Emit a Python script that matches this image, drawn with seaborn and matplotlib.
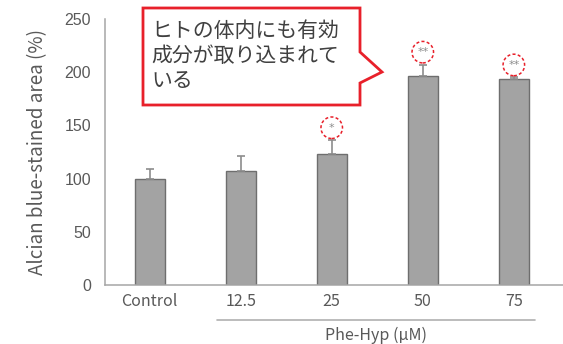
import seaborn as sns
import matplotlib.pyplot as plt
import matplotlib.transforms as mtransforms
import pandas as pd
from matplotlib.patches import Polygon

# Data
groups = ["Control", "12.5", "25", "50", "75"]
means = [100, 107, 123, 196, 194]
errors = [9, 14, 13, 11, 1]
signif = ["", "", "*", "**", "**"]

callout = "ヒトの体内にも有効\n成分が取り込まれて\nいる"

df = pd.DataFrame({"group": groups, "area": means})

sns.set_style("white")
plt.rcParams["font.family"] = ["Noto Sans CJK JP", "DejaVu Sans"]

grey_txt = "#595959"
axis_col = "#a6a6a6"
red = "#e8202a"

fig = plt.figure(figsize=(5.63, 3.44), dpi=100)
ax = fig.add_axes([0.1865, 0.1715, 0.8135, 0.7735])

sns.barplot(data=df, x="group", y="area", color="#a3a3a3", width=0.33,
            edgecolor="#6e6e6e", linewidth=1, saturation=1, ax=ax)

# upward-only error bars
xs = list(range(len(groups)))
ax.errorbar(xs, means, yerr=[[0] * len(means), errors], fmt="none",
            ecolor="#8c8c8c", elinewidth=1.2, capsize=3, capthick=1.2, zorder=1)

# significance markers in red dashed circles
shift = ax.transData + mtransforms.ScaledTranslation(0, 9 / 72, fig.dpi_scale_trans)
for x, m, e, s in zip(xs, means, errors, signif):
    if not s:
        continue
    ax.annotate(s, (x, m + e), xytext=(0, 9), textcoords="offset points",
                ha="center", va="center", fontsize=8, color="#8c8c8c",
                family="DejaVu Sans")
    ax.scatter([x], [m + e], s=240, facecolors="none", edgecolors=red,
               linewidths=1.1, linestyles=(0, (2, 1.5)), transform=shift,
               clip_on=False, zorder=4)

ax.set_ylim(0, 250)
ax.set_xlim(-0.49, 4.54)
ax.set_yticks([0, 50, 100, 150, 200, 250])
ax.set_xlabel("")
ax.set_ylabel("Alcian blue-stained area (%)", fontsize=13.5, color=grey_txt, labelpad=12)
ax.tick_params(axis="y", direction="in", length=4, color=axis_col, labelsize=11.5,
               labelcolor=grey_txt, pad=10)
ax.tick_params(axis="x", length=0, labelsize=11.5, labelcolor=grey_txt, pad=6)
for lab in ax.get_yticklabels():
    lab.set_family("Liberation Sans")

sns.despine(ax=ax, top=True, right=True)
for sp in ("left", "bottom"):
    ax.spines[sp].set_color(axis_col)
    ax.spines[sp].set_linewidth(1.1)

# group label under the concentrations
fig.add_artist(plt.Line2D([217 / 563, 535 / 563], [1 - 320 / 344] * 2,
                          color="#b0b0b0", lw=1.2))
fig.text(376 / 563, 1 - 335 / 344, "Phe-Hyp (μM)", ha="center", va="center",
         fontsize=11.5, color=grey_txt)

# speech-bubble callout
W, H = 563, 344
pts = [(143, 8), (360, 8), (360, 52), (382, 72), (360, 83), (360, 105), (143, 105)]
poly = Polygon([(x / W, 1 - y / H) for x, y in pts], closed=True,
               facecolor="white", edgecolor=red, lw=2,
               transform=fig.transFigure, zorder=5)
fig.add_artist(poly)
fig.text(151 / W, 1 - 56 / H, callout, ha="left", va="center", fontsize=15,
         color="#404040", linespacing=1.15, zorder=6)

plt.savefig("out.png", dpi=100)
